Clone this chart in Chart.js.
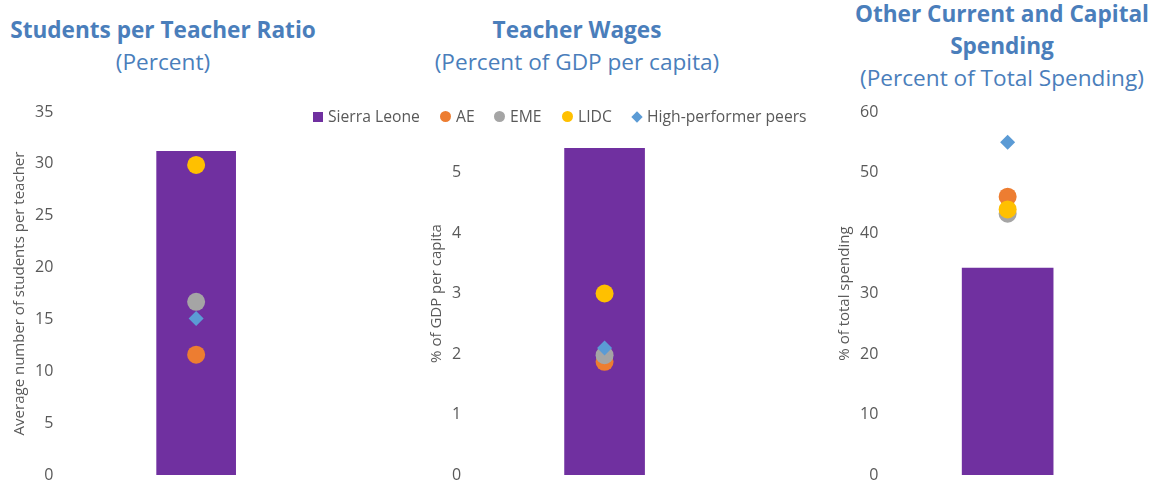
<!DOCTYPE html>
<html>
<head>
<meta charset="utf-8">
<script src="https://cdn.jsdelivr.net/npm/chart.js@4"></script>
<style>
  html, body { margin: 0; padding: 0; background: #fff; }
  body { width: 1150px; height: 480px; position: relative; overflow: hidden; font-family: "Open Sans", sans-serif; }
  .title { position: absolute; width: 420px; text-align: center; color: #4a7ebb; font-size: 22.6px; line-height: 32px; }
  .title b { font-weight: 700; }
  .panel { position: absolute; top: 95px; height: 405px; }
  .legend { position: absolute; top: 105px; height: 22px; font-size: 15.7px; color: #595959; }
  .item { position: absolute; top: 0; white-space: nowrap; line-height: 22px; }
  .mark { display: inline-block; vertical-align: middle; margin-right: 5px; position: relative; top: -1px; }
</style>
</head>
<body>
<div class="title" style="left:-47px; top:14px;"><b>Students per Teacher Ratio</b><br>(Percent)</div>
<div class="title" style="left:367px; top:14px;"><b>Teacher Wages</b><br>(Percent of GDP per capita)</div>
<div class="title" style="left:792px; top:-2px;"><b>Other Current and Capital<br>Spending</b><br>(Percent of Total Spending)</div>

<div class="panel" style="left:0px; width:334px;"><canvas id="c0"></canvas></div>
<div class="panel" style="left:417px; width:326px;"><canvas id="c1"></canvas></div>
<div class="panel" style="left:825px; width:307px;"><canvas id="c2"></canvas></div>

<div class="legend" id="legend"></div>

<script>
// three panels, one bar (Sierra Leone) and four comparator markers each
const seriesNames = ["Sierra Leone", "AE", "EME", "LIDC", "High-performer peers"];
const sierraLeone = [31.2, 5.4, 34.2];
const ae = [11.6, 1.87, 46.0];
const eme = [16.7, 1.98, 43.2];
const lidc = [29.9, 3.0, 43.9];
const peers = [15.1, 2.1, 55.0];

const axisTitles = ["Average number of students per teacher", "% of GDP per capita", "% of total spending"];
const yMax = [35, 6, 60];
const yStep = [5, 1, 10];
const hiddenTick = [null, 6, null]; // covered by the legend in the original

const colors = ["#7030a0", "#ed7d31", "#a5a5a5", "#ffc000", "#5b9bd5"];
const barWidth = [79, 80, 91];

const tickFont = { family: "Open Sans", size: 16 };

function marker(name, i, value, order) {
  return {
    type: "line",
    label: name,
    data: [value],
    showLine: false,
    pointStyle: i === 4 ? "rectRot" : "circle",
    pointRadius: i === 4 ? 7.5 : 9,
    pointHoverRadius: i === 4 ? 7.5 : 9,
    pointBackgroundColor: colors[i],
    pointBorderColor: colors[i],
    borderWidth: 0,
    order: order,
  };
}

for (let p = 0; p < 3; p++) {
  new Chart(document.getElementById("c" + p), {
    type: "bar",
    data: {
      labels: [""],
      datasets: [
        {
          label: seriesNames[0],
          data: [sierraLeone[p]],
          backgroundColor: colors[0],
          barThickness: barWidth[p],
          order: 10,
        },
        marker(seriesNames[1], 1, ae[p], 4),
        marker(seriesNames[2], 2, eme[p], 3),
        marker(seriesNames[3], 3, lidc[p], 2),
        marker(seriesNames[4], 4, peers[p], 1),
      ],
    },
    options: {
      responsive: true,
      maintainAspectRatio: false,
      animation: false,
      layout: { padding: { left: 9, right: 0, top: 17, bottom: 25 } },
      plugins: { legend: { display: false }, tooltip: { enabled: false } },
      scales: {
        x: { display: false },
        y: {
          min: 0,
          max: yMax[p],
          grid: { display: false },
          border: { display: false },
          ticks: {
            stepSize: yStep[p],
            color: "#595959",
            font: tickFont,
            padding: 6,
            callback: (v) => (v === hiddenTick[p] ? "" : v),
          },
          title: {
            display: true,
            text: axisTitles[p],
            color: "#595959",
            font: { family: "Open Sans", size: 15 },
            padding: { top: 2, bottom: 0 },
          },
        },
      },
    },
  });
}

// legend drawn as html over the middle panel
const legendX = [313, 440, 494, 562, 631];
const legend = document.getElementById("legend");
seriesNames.forEach((name, i) => {
  const item = document.createElement("div");
  item.className = "item";
  item.style.left = legendX[i] + "px";
  const m = document.createElement("span");
  m.className = "mark";
  m.style.background = colors[i];
  if (i === 0) {
    m.style.width = "10px"; m.style.height = "10px";
  } else if (i === 4) {
    m.style.width = "8px"; m.style.height = "8px"; m.style.transform = "rotate(45deg)";
    m.style.marginLeft = "2px"; m.style.marginRight = "6px";
  } else {
    m.style.width = "11px"; m.style.height = "11px"; m.style.borderRadius = "50%";
  }
  item.appendChild(m);
  item.appendChild(document.createTextNode(name));
  legend.appendChild(item);
});
</script>
</body>
</html>
